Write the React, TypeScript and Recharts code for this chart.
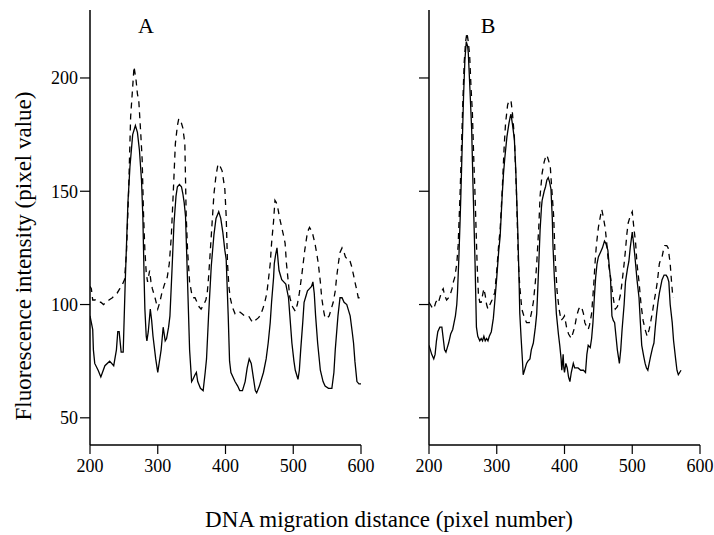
import { LineChart, Line, XAxis, YAxis } from "recharts";

type Pt = { x: number; y: number };

const toPoints = (rows: number[][]): Pt[] => rows.map(([x, y]) => ({ x, y }));

const xTicks = [200, 300, 400, 500, 600];
const yTicks = [50, 100, 150, 200];

// Panel A — solid trace
const traceASolid = toPoints([
  [200, 95], [202, 92], [204, 89], [205, 80], [207, 74], [212, 71], [216, 68], [222, 73],
  [229, 75], [235, 73], [239, 80], [241, 88], [243, 88], [246, 79], [249, 79], [252, 110],
  [256, 145], [259, 161], [263, 175], [267, 179], [270, 176], [273, 168], [276, 155], [278, 139],
  [280, 110], [281, 98], [283, 86], [284, 84], [286, 88], [289, 98], [291, 93], [293, 86],
  [297, 76], [300, 70], [303, 76], [305, 80], [308, 90], [311, 84], [313, 85], [316, 90],
  [318, 95], [321, 115], [324, 136], [327, 148], [329, 152], [332, 153], [335, 152], [337, 149],
  [339, 145], [341, 139], [344, 110], [347, 80], [350, 66], [352, 67], [355, 69], [357, 70],
  [359, 66], [363, 63], [367, 62], [370, 70], [372, 76], [375, 95], [379, 117], [383, 131],
  [386, 138], [390, 141], [393, 138], [396, 132], [399, 124], [401, 120], [404, 95], [406, 75],
  [408, 70], [414, 66], [418, 64], [421, 62], [425, 62], [429, 66], [432, 72], [435, 76],
  [438, 74], [441, 68], [444, 62], [446, 61], [450, 64], [456, 70], [460, 76], [463, 83],
  [466, 92], [468, 101], [471, 112], [472, 118], [474, 122], [476, 125], [478, 118], [479, 115],
  [483, 111], [486, 110], [489, 109], [493, 103], [495, 95], [498, 83], [501, 75], [503, 71],
  [507, 67], [509, 71], [511, 80], [514, 92], [516, 101], [519, 104], [521, 106], [524, 107],
  [527, 108], [529, 110], [531, 105], [533, 95], [536, 83], [540, 71], [544, 66], [547, 64],
  [552, 63], [557, 63], [560, 70], [562, 80], [566, 95], [569, 103], [572, 103], [575, 101],
  [579, 100], [582, 97], [584, 95], [587, 88], [589, 83], [591, 75], [594, 66], [597, 65],
  [600, 65],
]);

// Panel A — dashed trace
const traceADashed = toPoints([
  [200, 108], [202, 107], [204, 102], [208, 102], [212, 101], [216, 101], [220, 100], [224, 101],
  [228, 102], [233, 103], [236, 104], [240, 105], [244, 107], [248, 109], [251, 111], [254, 124],
  [257, 150], [260, 183], [263, 196], [265, 205], [268, 199], [270, 193], [272, 190], [275, 175],
  [277, 164], [279, 140], [281, 124], [283, 114], [285, 110], [288, 115], [290, 110], [292, 107],
  [296, 103], [300, 98], [303, 101], [306, 105], [310, 109], [314, 112], [317, 118], [320, 130],
  [323, 150], [326, 171], [329, 179], [331, 182], [334, 181], [337, 178], [340, 171], [342, 139],
  [344, 124], [347, 110], [350, 105], [352, 103], [355, 103], [358, 101], [361, 99], [364, 98],
  [368, 100], [371, 102], [373, 105], [375, 112], [377, 121], [380, 135], [383, 149], [386, 157],
  [389, 162], [392, 161], [395, 159], [397, 155], [399, 151], [401, 139], [403, 118], [405, 108],
  [407, 103], [410, 99], [414, 96], [418, 97], [420, 97], [424, 96], [428, 95], [431, 95],
  [434, 95], [438, 93], [441, 92], [444, 93], [448, 94], [451, 95], [455, 98], [458, 101],
  [461, 105], [463, 110], [466, 118], [468, 127], [471, 137], [473, 146], [475, 145], [477, 143],
  [480, 138], [483, 134], [486, 130], [488, 127], [490, 118], [492, 112], [495, 103], [499, 99],
  [503, 97], [506, 100], [509, 105], [513, 114], [517, 124], [521, 132], [524, 134], [528, 132],
  [532, 127], [535, 122], [537, 118], [540, 110], [542, 103], [545, 97], [547, 94], [550, 94],
  [553, 95], [556, 98], [559, 101], [562, 106], [564, 112], [567, 119], [569, 123], [572, 125],
  [575, 123], [577, 121], [580, 120], [583, 120], [586, 117], [589, 113], [591, 110], [594, 106],
  [596, 103], [600, 103],
]);

// Panel B — solid trace
const traceBSolid = toPoints([
  [200, 82], [202, 80], [204, 78], [207, 76], [209, 78], [211, 84], [213, 88], [216, 90],
  [219, 90], [221, 85], [223, 80], [225, 79], [227, 81], [229, 83], [232, 87], [235, 89],
  [237, 92], [239, 95], [241, 100], [242, 105], [244, 120], [246, 138], [247, 148], [249, 170],
  [251, 192], [253, 208], [255, 216], [257, 214], [258, 211], [260, 198], [263, 177], [265, 152],
  [268, 118], [270, 90], [272, 86], [275, 84], [277, 85], [279, 84], [281, 86], [283, 84],
  [285, 85], [287, 84], [289, 86], [292, 88], [295, 94], [297, 101], [300, 112], [303, 124],
  [305, 130], [308, 148], [310, 158], [312, 165], [315, 174], [318, 180], [320, 183], [321, 184],
  [323, 180], [326, 173], [328, 160], [331, 133], [333, 110], [334, 96], [336, 85], [338, 75],
  [339, 69], [341, 71], [344, 74], [346, 75], [349, 76], [351, 80], [354, 83], [357, 90],
  [359, 96], [361, 110], [364, 133], [366, 143], [367, 146], [370, 150], [372, 152], [374, 155],
  [376, 156], [378, 154], [380, 151], [382, 138], [383, 126], [385, 112], [388, 96], [391, 87],
  [393, 82], [395, 76], [396, 71], [397, 74], [398, 78], [399, 72], [400, 70], [402, 74],
  [404, 72], [406, 68], [408, 66], [410, 70], [413, 74], [415, 72], [418, 72], [420, 72],
  [424, 71], [428, 71], [431, 70], [433, 78], [435, 82], [438, 81], [440, 85], [442, 92],
  [444, 103], [446, 112], [448, 118], [450, 121], [453, 123], [456, 125], [459, 128], [461, 127],
  [464, 124], [466, 117], [468, 111], [470, 95], [472, 93], [474, 92], [476, 86], [478, 80],
  [481, 74], [483, 80], [485, 89], [488, 100], [490, 110], [493, 116], [495, 119], [497, 125],
  [500, 132], [502, 127], [504, 121], [507, 111], [510, 103], [512, 92], [514, 82], [517, 77],
  [519, 74], [521, 72], [523, 71], [525, 74], [527, 77], [530, 81], [532, 83], [534, 90],
  [536, 96], [538, 101], [540, 105], [542, 108], [544, 111], [547, 113], [550, 113], [552, 112],
  [554, 110], [556, 100], [559, 92], [561, 84], [564, 76], [566, 71], [568, 69], [570, 70],
  [572, 71],
]);

// Panel B — dashed trace
const traceBDashed = toPoints([
  [200, 101], [202, 100], [204, 99], [206, 98], [208, 99], [210, 101], [212, 102], [214, 101],
  [217, 104], [219, 106], [221, 107], [223, 104], [226, 102], [229, 103], [231, 104], [234, 107],
  [236, 110], [238, 112], [241, 118], [243, 126], [246, 150], [248, 170], [250, 190], [252, 207],
  [254, 216], [256, 220], [258, 216], [260, 210], [262, 196], [264, 185], [266, 165], [268, 148],
  [271, 118], [273, 104], [275, 101], [277, 101], [279, 104], [281, 107], [283, 104], [285, 100],
  [287, 98], [290, 100], [293, 102], [295, 104], [297, 105], [300, 115], [303, 127], [305, 133],
  [308, 150], [311, 170], [313, 180], [316, 188], [318, 190], [321, 190], [323, 185], [326, 174],
  [329, 150], [332, 118], [334, 108], [337, 98], [340, 95], [344, 92], [348, 92], [351, 96],
  [354, 101], [357, 110], [359, 118], [362, 134], [364, 148], [367, 158], [370, 163], [372, 165],
  [374, 166], [376, 164], [379, 161], [381, 152], [384, 139], [386, 122], [389, 106], [392, 98],
  [395, 93], [398, 94], [400, 95], [403, 90], [406, 87], [408, 86], [410, 85], [413, 88],
  [415, 90], [418, 95], [421, 98], [423, 99], [425, 99], [428, 96], [430, 92], [433, 90],
  [435, 89], [437, 91], [440, 96], [443, 108], [445, 118], [447, 126], [450, 134], [453, 139],
  [455, 142], [457, 139], [460, 134], [463, 125], [465, 118], [468, 112], [470, 107], [473, 101],
  [475, 98], [478, 99], [480, 101], [483, 105], [485, 110], [488, 118], [490, 124], [492, 131],
  [494, 136], [497, 139], [500, 141], [502, 135], [505, 127], [507, 118], [510, 110], [513, 100],
  [516, 93], [519, 89], [522, 86], [525, 89], [527, 92], [530, 97], [532, 101], [535, 106],
  [537, 110], [540, 118], [542, 120], [544, 121], [546, 124], [548, 126], [551, 126], [553, 125],
  [556, 118], [558, 110], [560, 103],
]);

const FONT = "'Liberation Serif', 'Times New Roman', serif";
const tickStyle = { fill: "#000", fontSize: 18, fontFamily: FONT };
const axisLine = { stroke: "#000", strokeWidth: 1.5 };
const tickLine = { stroke: "#000", strokeWidth: 1.2 };

// right panel keeps the tick marks but drops the numbers
const NoLabel = () => <g />;

function Panel({ solid, dashed, showYLabels, width, right }: {
  solid: Pt[];
  dashed: Pt[];
  showYLabels: boolean;
  width: number;
  right: number;
}) {
  return (
    <LineChart width={width} height={480} margin={{ top: 10, right, bottom: 0, left: 0 }}>
      <XAxis
        dataKey="x"
        type="number"
        domain={[200, 600]}
        ticks={xTicks}
        height={35}
        tickSize={9}
        tickMargin={5}
        axisLine={axisLine}
        tickLine={tickLine}
        tick={tickStyle}
        allowDataOverflow
      />
      <YAxis
        dataKey="y"
        type="number"
        domain={[38, 230]}
        ticks={yTicks}
        width={90}
        tickSize={10}
        tickMargin={2}
        axisLine={axisLine}
        tickLine={tickLine}
        tick={showYLabels ? tickStyle : NoLabel}
        allowDataOverflow
      />
      <Line
        data={dashed}
        dataKey="y"
        type="linear"
        stroke="#000"
        strokeWidth={1.3}
        strokeDasharray="6 5"
        dot={false}
        isAnimationActive={false}
      />
      <Line
        data={solid}
        dataKey="y"
        type="linear"
        stroke="#000"
        strokeWidth={1.3}
        dot={false}
        isAnimationActive={false}
      />
    </LineChart>
  );
}

export default function App() {
  return (
    <div
      style={{
        position: "absolute",
        left: 0,
        top: 0,
        width: 714,
        height: 535,
        background: "#fff",
        overflow: "hidden",
      }}
    >
      <div style={{ position: "absolute", left: 0, top: 0 }}>
        <Panel solid={traceASolid} dashed={traceADashed} showYLabels width={380} right={19} />
      </div>
      <div style={{ position: "absolute", left: 339, top: 0 }}>
        <Panel solid={traceBSolid} dashed={traceBDashed} showYLabels={false} width={375} right={14} />
      </div>
      <svg
        width={714}
        height={535}
        style={{ position: "absolute", left: 0, top: 0, pointerEvents: "none" }}
      >
        <text x={146} y={33} textAnchor="middle" fontSize={22} fontFamily={FONT} fill="#000">A</text>
        <text x={488} y={33} textAnchor="middle" fontSize={22} fontFamily={FONT} fill="#000">B</text>
        <text
          x={31}
          y={256}
          transform="rotate(-90 31 256)"
          textAnchor="middle"
          fontSize={23}
          fontFamily={FONT}
          fill="#000"
        >
          Fluorescence intensity (pixel value)
        </text>
        <text x={389} y={527} textAnchor="middle" fontSize={23} fontFamily={FONT} fill="#000">
          DNA migration distance (pixel number)
        </text>
      </svg>
    </div>
  );
}
